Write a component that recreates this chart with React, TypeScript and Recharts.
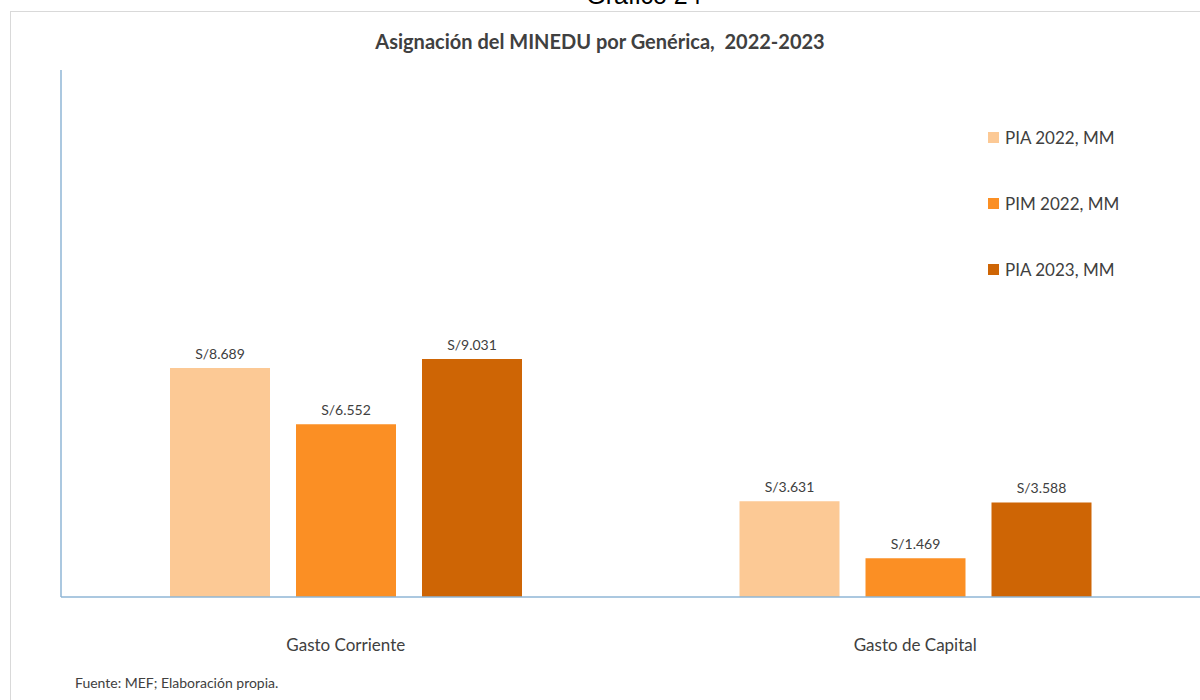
import React from "react";
import { BarChart, Bar, XAxis, YAxis, LabelList } from "recharts";

const categories = ["Gasto Corriente", "Gasto de Capital"];
const pia2022 = [8.689, 3.631];
const pim2022 = [6.552, 1.469];
const pia2023 = [9.031, 3.588];

const SERIES = [
  { key: "pia2022", name: "PIA 2022, MM", color: "#fcc995" },
  { key: "pim2022", name: "PIM 2022, MM", color: "#fb8f24" },
  { key: "pia2023", name: "PIA 2023, MM", color: "#ce6505" },
];

const data = categories.map((name, i) => ({
  name,
  pia2022: pia2022[i],
  pim2022: pim2022[i],
  pia2023: pia2023[i],
}));

const FONT = "Lato, 'Open Sans', sans-serif";
const TEXT = "#404040";
const AXIS = "#8fb6d6";

const CategoryTick = ({ x, y, payload }: any) => (
  <text x={x} y={y + 46} textAnchor="middle" fontSize={17} fill={TEXT} fontFamily={FONT}>
    {payload.value}
  </text>
);

const SideLegend = () => (
  <div style={{ fontFamily: FONT }}>
    {SERIES.map((s) => (
      <div
        key={s.key}
        style={{ display: "flex", alignItems: "center", height: 66 }}
      >
        <span style={{ width: 11, height: 11, background: s.color, marginRight: 6 }} />
        <span style={{ fontSize: 17, color: TEXT }}>{s.name}</span>
      </div>
    ))}
  </div>
);

const App: React.FC = () => {
  return (
    <div
      style={{
        position: "absolute",
        left: 0,
        top: 0,
        width: 1200,
        height: 700,
        background: "#fff",
        overflow: "hidden",
      }}
    >
      {/* caption cut off by the crop */}
      <div
        style={{
          position: "absolute",
          left: 0,
          width: 1288,
          top: -19,
          textAlign: "center",
          fontFamily: "'Liberation Sans', Arial, sans-serif",
          fontSize: 25,
          color: "#000",
        }}
      >
        Gráfico 24
      </div>
      <div
        style={{
          position: "absolute",
          left: 10,
          top: 11,
          width: 1200,
          height: 700,
          borderLeft: "1.5px solid #d9d9d9",
          borderTop: "1.5px solid #d9d9d9",
        }}
      />
      <div
        style={{
          position: "absolute",
          left: 0,
          width: 1200,
          top: 29,
          textAlign: "center",
          fontFamily: FONT,
          fontWeight: 700,
          fontSize: 20,
          color: TEXT,
          whiteSpace: "pre",
        }}
      >
        {"Asignación del MINEDU por Genérica,  2022-2023"}
      </div>

      <div style={{ position: "absolute", left: 0, top: 0 }}>
        <BarChart
          width={1200}
          height={700}
          data={data}
          margin={{ top: 70, right: 0, left: 60, bottom: 73 }}
          barSize={100}
          barGap={26}
        >
          <XAxis
            dataKey="name"
            height={30}
            axisLine={{ stroke: AXIS, strokeWidth: 1.5 }}
            tickLine={false}
            tick={<CategoryTick />}
            interval={0}
          />
          <YAxis
            width={1}
            domain={[0, 20]}
            axisLine={{ stroke: AXIS, strokeWidth: 1.5 }}
            tickLine={false}
            tick={false}
          />
          {SERIES.map((s) => (
            <Bar
              key={s.key}
              dataKey={s.key}
              name={s.name}
              fill={s.color}
              isAnimationActive={false}
            >
              <LabelList
                dataKey={s.key}
                position="top"
                offset={9}
                fontSize={14}
                fill={TEXT}
                fontFamily={FONT}
                formatter={(v: any) => `S/${Number(v).toFixed(3)}`}
              />
            </Bar>
          ))}
        </BarChart>
      </div>

      <div style={{ position: "absolute", left: 988, top: 104, width: 200 }}>
        <SideLegend />
      </div>

      <div
        style={{
          position: "absolute",
          left: 75,
          top: 674,
          fontFamily: FONT,
          fontSize: 14,
          color: TEXT,
        }}
      >
        Fuente: MEF; Elaboración propia.
      </div>
    </div>
  );
};

export default App;
